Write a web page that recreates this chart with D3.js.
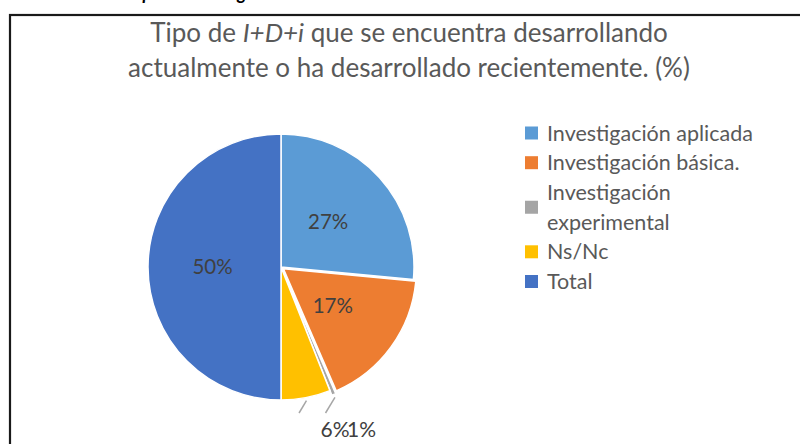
<!DOCTYPE html>
<html>
<head>
<meta charset="utf-8">
<script src="https://cdn.jsdelivr.net/npm/d3@7"></script>
<style>
  body { margin: 0; background: #fff; }
  svg { display: block; font-family: Lato, "Open Sans", sans-serif; }
</style>
</head>
<body>
<svg id="chart" width="800" height="444"></svg>
<script>
// data (counts out of 200, shown as %)
const categories = ["Investigación aplicada", "Investigación básica.", "Investigación experimental", "Ns/Nc", "Total"];
const counts = [53, 34, 1, 12, 100];
const colors = ["#5B9BD5", "#ED7D31", "#A5A5A5", "#FFC000", "#4472C4"];
const legendLines = [["Investigación aplicada"], ["Investigación básica."], ["Investigación", "experimental"], ["Ns/Nc"], ["Total"]];
const explode = [0, 3, 5, 0, 0];
const outsideLabel = [false, false, true, true, false];

const svg = d3.select('#chart');

// caption cut off by the top of the picture
svg.append('text').attr('x', 128).attr('y', 0)
  .attr('font-size', 18).attr('font-weight', 'bold').attr('font-style', 'italic')
  .attr('fill', '#000').text('Tipo de investigación');

// chart area frame
svg.append('rect').attr('x', 10).attr('y', 15).attr('width', 820).attr('height', 460)
  .attr('fill', 'none').attr('stroke', '#1a1a1a').attr('stroke-width', 2.2);

// title
const title = svg.append('text').attr('text-anchor', 'middle').attr('fill', '#595959').attr('font-size', 26);
const t1 = title.append('tspan').attr('x', 409).attr('y', 42);
t1.append('tspan').text('Tipo de ');
t1.append('tspan').attr('font-style', 'italic').text('I+D+i');
t1.append('tspan').text(' que se encuentra desarrollando');
title.append('tspan').attr('x', 409).attr('y', 77).text('actualmente o ha desarrollado recientemente. (%)');

// pie
const cx = 281, cy = 267, r = 133;
const total = d3.sum(counts);
const pie = d3.pie().sort(null).value(d => d);
const arcs = pie(counts);
const arc = d3.arc().innerRadius(0).outerRadius(r);
const g = svg.append('g').attr('transform', 'translate(' + cx + ',' + cy + ')');

function offset(d, i, k) {
  const a = (d.startAngle + d.endAngle) / 2;
  return [Math.sin(a) * k, -Math.cos(a) * k];
}

g.selectAll('path').data(arcs).join('path')
  .attr('d', arc)
  .attr('transform', (d, i) => { const o = offset(d, i, explode[i]); return 'translate(' + o[0] + ',' + o[1] + ')'; })
  .attr('fill', (d, i) => colors[i])
  .attr('stroke', '#fff').attr('stroke-width', 1.5);

const pct = d => Math.round(d.value / total * 100) + '%';

// labels inside
const inner = d3.arc().innerRadius(r * 0.5).outerRadius(r * 0.5);
g.selectAll('text.in').data(arcs.filter((d, i) => !outsideLabel[i])).join('text')
  .attr('class', 'in')
  .attr('x', d => { const c = inner.centroid(d); return c[0] - 2; })
  .attr('y', d => inner.centroid(d)[1])
  .attr('dy', '0.35em').attr('text-anchor', 'middle')
  .attr('font-size', 20.5).attr('fill', '#404040')
  .text(pct);

// small slices: leader line + label under the pie
const small = arcs.map((d, i) => ({ d, i })).filter(o => outsideLabel[o.i]);
small.forEach(o => {
  const a = (o.d.startAngle + o.d.endAngle) / 2;
  const rr = r + 3 + explode[o.i];
  const sx = Math.sin(a) * rr, sy = -Math.cos(a) * rr;
  const ey = r + 13;
  const ex = sx - (ey - sy) * 0.6;
  g.append('line').attr('x1', sx).attr('y1', sy).attr('x2', ex).attr('y2', ey)
    .attr('stroke', '#A6A6A6').attr('stroke-width', 1.5);
  g.append('text').attr('x', ex + 36).attr('y', r + 30)
    .attr('dy', '0.35em').attr('text-anchor', 'middle')
    .attr('font-size', 21).attr('fill', '#404040')
    .text(pct(o.d));
});

// legend
const lineH = 29.7;
const legend = svg.append('g').attr('transform', 'translate(525,133)');
let yy = 0;
legendLines.forEach((lines, i) => {
  const mid = yy + (lines.length - 1) * lineH / 2;
  legend.append('rect').attr('x', 0).attr('y', mid - 6.5).attr('width', 13).attr('height', 13)
    .attr('fill', colors[i]);
  lines.forEach((ln, j) => {
    legend.append('text').attr('x', 22).attr('y', yy + j * lineH).attr('dy', '0.35em')
      .attr('font-size', 21.5).attr('fill', '#595959').text(ln);
  });
  yy += lines.length * lineH;
});
</script>
</body>
</html>
